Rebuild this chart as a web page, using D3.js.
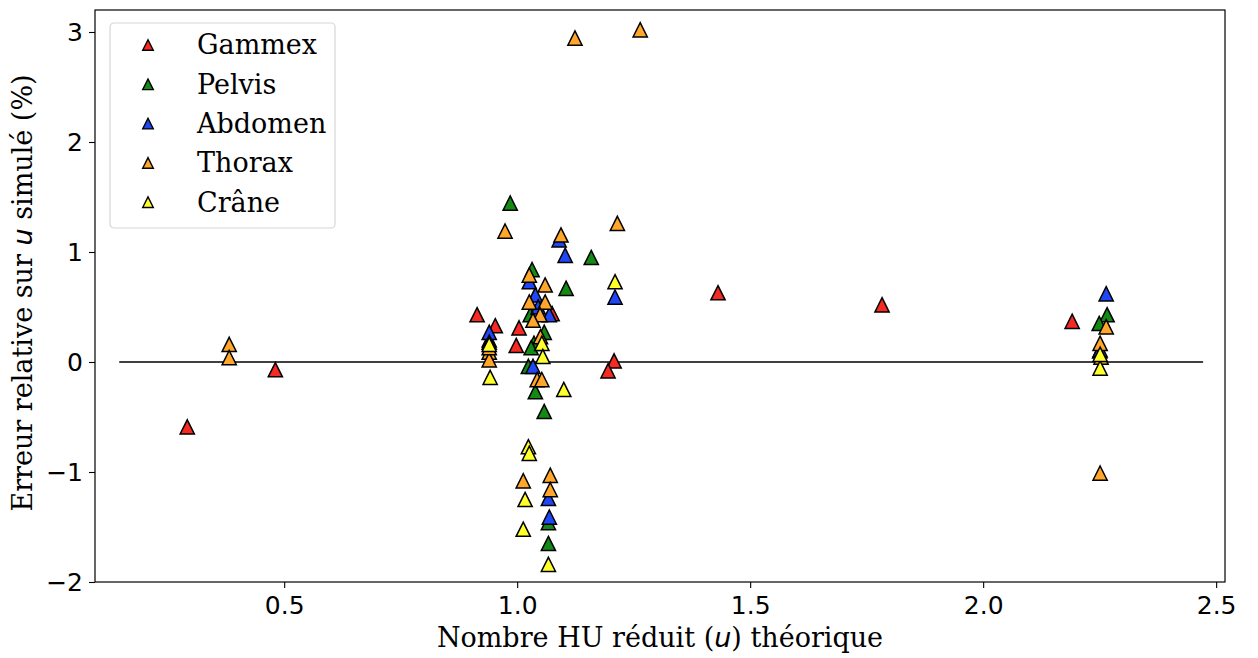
<!DOCTYPE html>
<html>
<head>
<meta charset="utf-8">
<script src="https://cdn.jsdelivr.net/npm/d3@7"></script>
<style>
  html, body { margin: 0; padding: 0; background: #fff; }
  svg { display: block; }
</style>
</head>
<body>
<div id="chart"></div>
<script>
// Données : erreur relative (%) vs u théorique
const seriesNames = ['Gammex', 'Pelvis', 'Abdomen', 'Thorax', 'Crâne'];

const gammexX = [0.292, 0.481, 0.914, 0.953, 1.004, 0.998, 1.075, 1.208, 1.195, 1.431, 1.783, 2.191];
const gammexY = [-0.59, -0.07, 0.43, 0.33, 0.31, 0.15, 0.44, 0.01, -0.08, 0.63, 0.52, 0.37];

const pelvisX = [0.985, 1.159, 1.105, 1.032, 1.028, 1.058, 1.036, 1.030, 1.024, 1.039, 1.058, 1.067, 1.067, 0.94, 2.266, 2.249, 2.25];
const pelvisY = [1.445, 0.95, 0.67, 0.84, 0.43, 0.27, 0.17, 0.13, -0.04, -0.27, -0.45, -1.46, -1.65, 0.20, 0.43, 0.35, 0.10];

const abdomenX = [1.103, 1.210, 2.264, 0.94, 1.090, 1.026, 1.039, 1.069, 1.034, 1.067, 1.069, 2.251, 0.94, 1.045];
const abdomenY = [0.97, 0.59, 0.62, 0.27, 1.11, 0.73, 0.61, 0.43, -0.04, -1.24, -1.41, 0.11, 0.18, 0.50];

const thoraxX = [0.382, 0.382, 1.124, 1.264, 0.974, 1.094, 1.215, 1.026, 1.060, 1.026, 1.060, 1.049, 1.034, 1.050, 0.94, 0.94, 1.043, 1.053, 1.071, 1.071, 1.013, 2.264, 2.251, 2.253, 2.251, 0.94];
const thoraxY = [0.16, 0.04, 2.945, 3.02, 1.19, 1.155, 1.26, 0.79, 0.70, 0.545, 0.545, 0.43, 0.38, 0.23, 0.09, 0.02, -0.16, -0.16, -1.03, -1.16, -1.08, 0.32, 0.17, 0.045, -1.01, 0.13];

const craneX = [0.942, 1.10, 1.024, 1.026, 1.013, 1.017, 1.067, 1.210, 2.251, 1.053, 1.055, 0.94, 2.251];
const craneY = [-0.14, -0.25, -0.77, -0.83, -1.52, -1.25, -1.84, 0.73, -0.055, 0.17, 0.05, 0.16, 0.07];

const xTicks = [0.5, 1.0, 1.5, 2.0, 2.5];
const yTicks = [-2, -1, 0, 1, 2, 3];
const zeroLineX = [0.146, 2.472];

const colors = ['#f52a22', '#138a13', '#1f47f5', '#ffa62b', '#ffff2b'];
const seriesX = [gammexX, pelvisX, abdomenX, thoraxX, craneX];
const seriesY = [gammexY, pelvisY, abdomenY, thoraxY, craneY];

// Canevas
const width = 1258, height = 658;
const margin = { top: 10, right: 33, bottom: 76, left: 95 };
const innerW = width - margin.left - margin.right;
const innerH = height - margin.top - margin.bottom;

const svg = d3.select('#chart').append('svg')
  .attr('width', width)
  .attr('height', height)
  .attr('viewBox', `0 0 ${width} ${height}`);

svg.append('rect').attr('width', width).attr('height', height).attr('fill', '#fff');

const g = svg.append('g').attr('transform', `translate(${margin.left},${margin.top})`);

const x = d3.scaleLinear().domain([0.094, 2.519]).range([0, innerW]);
const y = d3.scaleLinear().domain([-2, 3.2]).range([innerH, 0]);

const fmtX = d3.format('.1f');
const fmtY = d => (d < 0 ? '\u2212' + Math.abs(d) : String(d));

// Axes
const xAxis = g.append('g')
  .attr('transform', `translate(0,${innerH})`)
  .call(d3.axisBottom(x).tickValues(xTicks).tickFormat(fmtX).tickSize(6).tickPadding(6));
const yAxis = g.append('g')
  .call(d3.axisLeft(y).tickValues(yTicks).tickFormat(fmtY).tickSize(6).tickPadding(6));

[xAxis, yAxis].forEach(a => {
  a.select('.domain').remove();
  a.selectAll('line').attr('stroke', '#000').attr('stroke-width', 1.1);
  a.selectAll('text')
    .attr('fill', '#000')
    .style('font-family', '"DejaVu Sans", sans-serif')
    .style('font-size', '25px');
});
xAxis.selectAll('text').attr('dy', '0.78em');
yAxis.selectAll('text').attr('dy', '0.35em');

// Ligne y = 0
g.append('line')
  .attr('x1', x(zeroLineX[0])).attr('x2', x(zeroLineX[1]))
  .attr('y1', y(0)).attr('y2', y(0))
  .attr('stroke', '#000').attr('stroke-width', 1.5);

// Marqueurs triangles
const tri = s => `M0,${-s} L${s},${s} L${-s},${s} Z`;

seriesNames.forEach((name, i) => {
  const pts = seriesX[i].map((v, j) => [v, seriesY[i][j]]);
  g.append('g').selectAll('path')
    .data(pts)
    .join('path')
    .attr('d', tri(7.1))
    .attr('transform', d => `translate(${x(d[0])},${y(d[1])})`)
    .attr('fill', colors[i])
    .attr('stroke', '#000')
    .attr('stroke-width', 1.5)
    .attr('stroke-linejoin', 'miter');
});

// Cadre
g.append('rect')
  .attr('width', innerW).attr('height', innerH)
  .attr('fill', 'none').attr('stroke', '#000').attr('stroke-width', 1.2);

// Légende
const leg = svg.append('g').attr('transform', 'translate(110,23)');
leg.append('rect')
  .attr('width', 225).attr('height', 205).attr('rx', 4)
  .attr('fill', '#fff').attr('fill-opacity', 0.8)
  .attr('stroke', '#d6d6d6').attr('stroke-width', 1.2);
seriesNames.forEach((name, i) => {
  const row = leg.append('g').attr('transform', `translate(0,${22 + i * 39.3})`);
  row.append('path')
    .attr('d', tri(5.3))
    .attr('transform', 'translate(38,0)')
    .attr('fill', colors[i]).attr('stroke', '#000').attr('stroke-width', 1.4);
  row.append('text')
    .attr('x', 87).attr('dy', '0.35em')
    .style('font-family', '"DejaVu Serif", serif')
    .style('font-size', '27px')
    .text(name);
});

// Titres des axes
const xl = svg.append('text')
  .attr('x', margin.left + innerW / 2).attr('y', 647)
  .attr('text-anchor', 'middle')
  .style('font-family', '"DejaVu Serif", serif').style('font-size', '27px');
xl.append('tspan').text('Nombre HU réduit (');
xl.append('tspan').style('font-family', '"DejaVu Sans", sans-serif').style('font-style', 'italic').text('u');
xl.append('tspan').text(') théorique');

const yl = svg.append('text')
  .attr('transform', `translate(32,293) rotate(-90)`)
  .attr('text-anchor', 'middle')
  .style('font-family', '"DejaVu Serif", serif').style('font-size', '27px');
yl.append('tspan').text('Erreur relative sur ');
yl.append('tspan').style('font-family', '"DejaVu Sans", sans-serif').style('font-style', 'italic').text('u');
yl.append('tspan').text(' simulé (%)');
</script>
</body>
</html>
